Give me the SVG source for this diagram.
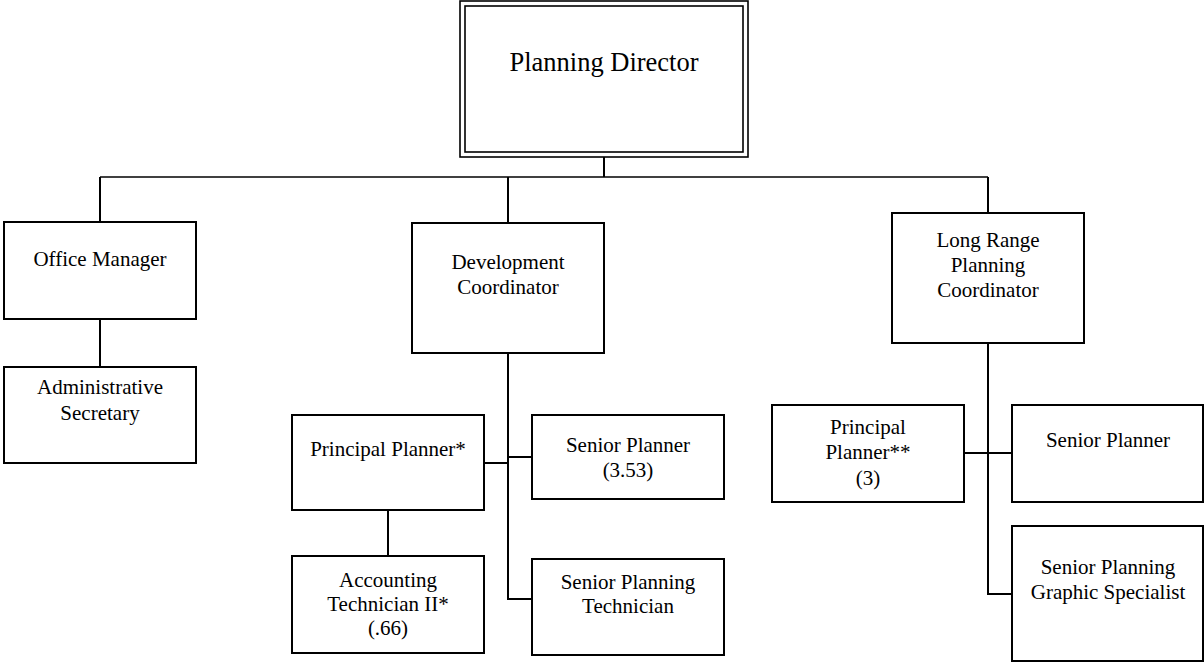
<svg xmlns="http://www.w3.org/2000/svg" width="1204" height="662" viewBox="0 0 1204 662">
<style>
.box{fill:#fff;stroke:#000;stroke-width:2}
.dbl{fill:none;stroke:#000;stroke-width:1.6}
.t{font-family:"Liberation Serif","Times New Roman",serif;font-size:21px;fill:#000;text-anchor:middle}
.big{font-size:26.5px}
.c{fill:none;stroke:#000;stroke-width:2}
.c1{fill:none;stroke:#000;stroke-width:1.5}
</style>
<rect width="1204" height="662" fill="#fff"/>
<g id="connectors">
<path class="c1" d="M100 177H988"/>
<path class="c" d="M604 157V177M508 177V223M100 177V222M988 177V213"/>
<path class="c" d="M100 319V367"/>
<path class="c" d="M508 353V599H532M484 463H508M508 457H532M388 510V556"/>
<path class="c" d="M988 343V594H1012M964 453H1012"/>
</g>
<g id="planning-director">
<rect class="dbl" x="460" y="1" width="288" height="156"/>
<rect class="dbl" x="465" y="6" width="278" height="146"/>
<text class="t big" x="604" y="71">Planning Director</text>
</g>
<g id="office-manager">
<rect class="box" x="4" y="222" width="192" height="97"/>
<text class="t" x="100" y="266">Office Manager</text>
</g>
<g id="administrative-secretary">
<rect class="box" x="4" y="367" width="192" height="96"/>
<text class="t" x="100" y="394">Administrative</text>
<text class="t" x="100" y="420">Secretary</text>
</g>
<g id="development-coordinator">
<rect class="box" x="412" y="223" width="192" height="130"/>
<text class="t" x="508" y="269">Development</text>
<text class="t" x="508" y="294">Coordinator</text>
</g>
<g id="principal-planner-dev">
<rect class="box" x="292" y="415" width="192" height="95"/>
<text class="t" x="388" y="456">Principal Planner*</text>
</g>
<g id="accounting-technician">
<rect class="box" x="292" y="556" width="192" height="97"/>
<text class="t" x="388" y="587">Accounting</text>
<text class="t" x="388" y="611">Technician II*</text>
<text class="t" x="388" y="635">(.66)</text>
</g>
<g id="senior-planner-dev">
<rect class="box" x="532" y="415" width="192" height="84"/>
<text class="t" x="628" y="452">Senior Planner</text>
<text class="t" x="628" y="477">(3.53)</text>
</g>
<g id="senior-planning-technician">
<rect class="box" x="532" y="559" width="192" height="96"/>
<text class="t" x="628" y="589">Senior Planning</text>
<text class="t" x="628" y="613">Technician</text>
</g>
<g id="long-range-planning-coordinator">
<rect class="box" x="892" y="213" width="192" height="130"/>
<text class="t" x="988" y="247">Long Range</text>
<text class="t" x="988" y="272">Planning</text>
<text class="t" x="988" y="297">Coordinator</text>
</g>
<g id="principal-planner-lr">
<rect class="box" x="772" y="405" width="192" height="97"/>
<text class="t" x="868" y="434">Principal</text>
<text class="t" x="868" y="459">Planner**</text>
<text class="t" x="868" y="485">(3)</text>
</g>
<g id="senior-planner-lr">
<rect class="box" x="1012" y="405" width="191" height="97"/>
<text class="t" x="1108" y="447">Senior Planner</text>
</g>
<g id="senior-planning-graphic-specialist">
<rect class="box" x="1012" y="526" width="191" height="135"/>
<text class="t" x="1108" y="574">Senior Planning</text>
<text class="t" x="1108" y="599">Graphic Specialist</text>
</g>
</svg>
